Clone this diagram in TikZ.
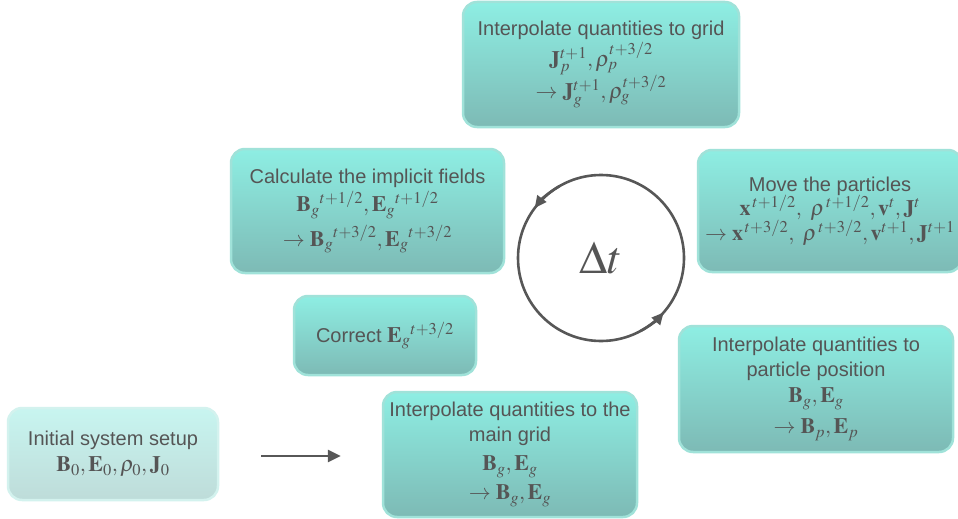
\documentclass[tikz,border=0pt]{standalone}
\usepackage{mathptmx}
\usepackage[no-math]{fontspec}
\setmainfont{Liberation Sans}
\usetikzlibrary{arrows.meta}
\DeclareMathSizes{22}{22}{16.5}{12}
\DeclareMathSizes{46}{46}{32}{23}
\newcommand{\ml}[1]{{\fontsize{22}{25}\selectfont$#1$}}
\definecolor{txt}{HTML}{555555}
\definecolor{arrowc}{HTML}{575757}
\definecolor{boxtop}{HTML}{8EEEE3}
\definecolor{boxbot}{HTML}{7DBAB5}
\definecolor{boxedge}{HTML}{A0E2D9}
\definecolor{inittop}{HTML}{C8F5F0}
\definecolor{initbot}{HTML}{BEDCD9}
\definecolor{initedge}{HTML}{D3F2EE}
\tikzset{
  box/.style={draw=boxedge, line width=2.5pt, rounded corners=14pt,
    top color=boxtop, bottom color=boxbot, align=center, text=txt,
    font=\fontsize{20}{25}\selectfont, inner sep=0pt},
  initbox/.style={box, draw=initedge, top color=inittop, bottom color=initbot},
  conn/.style={draw=arrowc, line width=2.6pt},
}
\begin{document}
\begin{tikzpicture}[x=1pt,y=1pt]
\useasboundingbox (0,0) rectangle (958,-519);

\node[box, minimum width=276pt, minimum height=125pt] (grid) at (601,-64.5)
  {Interpolate quantities to grid\\[1pt]
   \ml{\mathbf{J}_p^{t+1},\rho_p^{t+3/2}}\\[-1pt]
   \ml{\rightarrow\mathbf{J}_g^{t+1},\rho_g^{t+3/2}}};

\node[box, minimum width=264pt, minimum height=122pt] (move) at (830,-211)
  {Move the particles\\[-1pt]
   \ml{\mathbf{x}^{\,t+1/2},\ \rho^{\,t+1/2},\mathbf{v}^t,\mathbf{J}^t}\\[-1pt]
   \ml{\rightarrow\mathbf{x}^{\,t+3/2},\ \rho^{\,t+3/2},\mathbf{v}^{t+1},\mathbf{J}^{t+1}}};

\node[box, minimum width=273pt, minimum height=124pt] (calc) at (367.5,-211)
  {Calculate the implicit fields\\[3pt]
   \ml{{\mathbf{B}_g}^{t+1/2},{\mathbf{E}_g}^{t+1/2}}\\[6pt]
   \ml{\rightarrow{\mathbf{B}_g}^{t+3/2},{\mathbf{E}_g}^{t+3/2}}};

\node[box, minimum width=182pt, minimum height=79pt] (corr) at (385,-335.5)
  {Correct \ml{{\mathbf{E}_g}^{t+3/2}}};

\node[box, minimum width=274pt, minimum height=126pt] (part) at (816,-389)
  {Interpolate quantities to\\ particle position\\[1pt]
   \ml{\mathbf{B}_g,\mathbf{E}_g}\\[6pt]
   \ml{\rightarrow\mathbf{B}_p,\mathbf{E}_p}};

\node[box, minimum width=254pt, minimum height=125pt] (main) at (510,-454.5)
  {Interpolate quantities to the\\ main grid\\[4pt]
   \ml{\mathbf{B}_g,\mathbf{E}_g}\\[4pt]
   \ml{\rightarrow\mathbf{B}_g,\mathbf{E}_g}};

\node[initbox, minimum width=210pt, minimum height=92pt] (init) at (113,-454)
  {Initial system setup\\[1pt] \ml{\mathbf{B}_0,\mathbf{E}_0,\rho_0,\mathbf{J}_0}};

\node[draw=arrowc, line width=2.6pt, circle, minimum size=166pt, inner sep=0pt,
  text=txt, font=\fontsize{46}{46}\selectfont] (loop) at (601,-258) {$\Delta t$};

\draw[conn, -{Triangle[length=12pt,width=11pt]}]
  ([shift={(120:83)}]loop.center) arc[start angle=120, end angle=143, radius=83];
\draw[conn, -{Triangle[length=12pt,width=11pt]}]
  ([shift={(-62:83)}]loop.center) arc[start angle=-62, end angle=-41, radius=83];

\draw[conn, -{Triangle[length=13pt,width=12pt]}]
  ([xshift=42pt,yshift=-2pt]init.east) -- ([xshift=-41pt,yshift=-2pt]init.east -| main.west);
\end{tikzpicture}
\end{document}
